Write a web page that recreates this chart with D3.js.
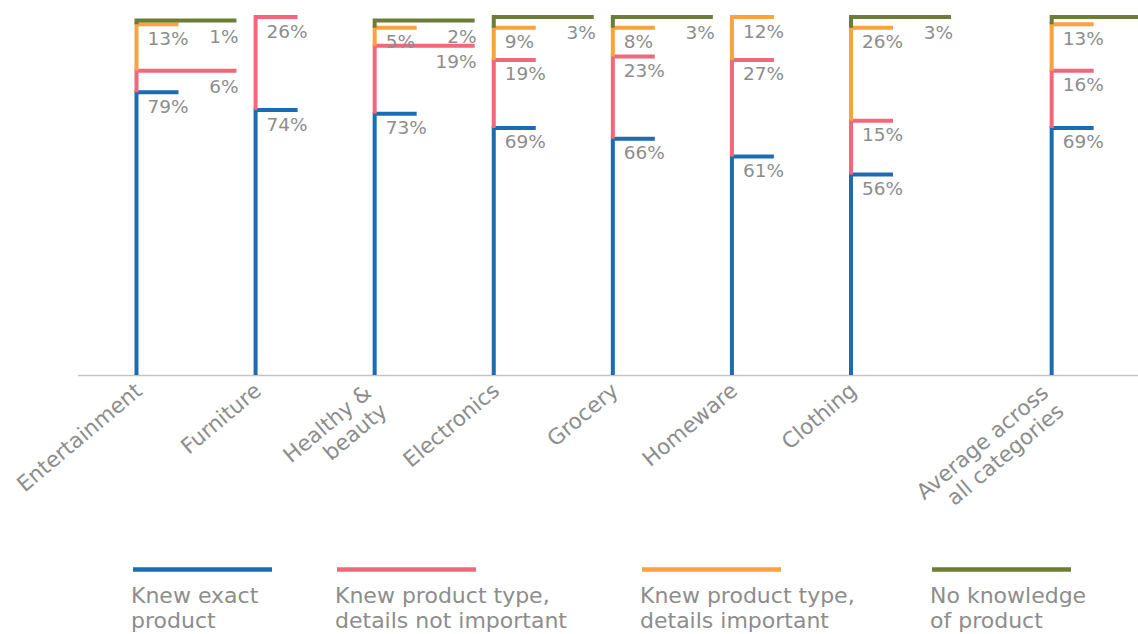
<!DOCTYPE html>
<html>
<head>
<meta charset="utf-8">
<script src="https://cdn.jsdelivr.net/npm/d3@7/dist/d3.min.js"></script>
<style>
  html, body { margin: 0; padding: 0; background: #ffffff; }
  svg { display: block; font-family: "DejaVu Sans", "Noto Sans", sans-serif; }
</style>
</head>
<body>
<svg id="chart" width="1138" height="634"></svg>
<script>
// ---- Data -------------------------------------------------------------
const categories = [
  "Entertainment", "Furniture", "Healthy & beauty", "Electronics",
  "Grocery", "Homeware", "Clothing", "Average across all categories"
];
const categoryLabelLines = [
  ["Entertainment"], ["Furniture"], ["Healthy &", "beauty"], ["Electronics"],
  ["Grocery"], ["Homeware"], ["Clothing"], ["Average across", "all categories"]
];
const seriesKeys = ["exact", "typeNotImportant", "typeImportant", "none"];
const seriesLegendLines = [
  ["Knew exact", "product"],
  ["Knew product type,", "details not important"],
  ["Knew product type,", "details important"],
  ["No knowledge", "of product"]
];
const knewExact        = [79, 74, 73, 69, 66, 61, 56, 69];
const typeNotImportant = [ 6, 26, 19, 19, 23, 27, 15, 16];
const typeImportant    = [13,  0,  5,  9,  8, 12, 26, 13];
const noKnowledge      = [ 1,  0,  2,  3,  3,  0,  3,  2];
const seriesColors = ["#1d6cb1", "#f2677a", "#f8a33d", "#6c7d35"];

// Segments whose value label sits at the right end of a longer top rule
const rightLabelSeries = ["none"];
const rightLabelCells = [["Entertainment", "typeNotImportant"], ["Healthy & beauty", "typeNotImportant"]];

// ---- Layout -----------------------------------------------------------
const W = 1138, H = 634;
const svg = d3.select("#chart");
const baseY = 375, topY = 17;
const textGray = "#8d8d8d";

const rows = categories.map((c, i) => ({
  category: c,
  exact: knewExact[i],
  typeNotImportant: typeNotImportant[i],
  typeImportant: typeImportant[i],
  none: noKnowledge[i]
}));
const stacked = d3.stack().keys(seriesKeys)(rows);

const y = d3.scaleLinear().domain([0, 100]).range([baseY, topY]);

// Individual categories share a point scale; the overall average is set apart
const regular = categories.slice(0, -1);
const xp = d3.scalePoint().domain(regular).range([136.5, 851]);
const summaryGap = 1.685;
const xPos = c => regular.includes(c) ? xp(c) : xp(regular[regular.length - 1]) + summaryGap * xp.step();

const shortRule = 42, longRule = 100;
const isRight = (cat, key) =>
  rightLabelSeries.includes(key) || rightLabelCells.some(([c, k]) => c === cat && k === key);

// Axis baseline
svg.append("line")
  .attr("x1", 78).attr("x2", W)
  .attr("y1", baseY + 0.5).attr("y2", baseY + 0.5)
  .attr("stroke", "#c4c4c4").attr("stroke-width", 1.6);

// Segments: left edge plus top rule
const segG = svg.append("g");
stacked.forEach((layer, si) => {
  const key = layer.key;
  layer.forEach(d => {
    const cat = d.data.category;
    const v = d[1] - d[0];
    if (v <= 0) return;
    const x0 = xPos(cat);
    const w = isRight(cat, key) ? longRule : shortRule;
    const path = d3.path();
    path.moveTo(x0, y(d[0]));
    path.lineTo(x0, y(d[1]));
    path.lineTo(x0 + w, y(d[1]));
    segG.append("path")
      .attr("d", path.toString())
      .attr("fill", "none")
      .attr("stroke", seriesColors[si])
      .attr("stroke-width", 4)
      .attr("stroke-linejoin", "miter");
  });
});

// Value labels: under the segment's top rule, kept clear of the rule below
const labG = svg.append("g")
  .attr("font-size", 18.5).attr("fill", textGray);
stacked.forEach((layer, si) => {
  const key = layer.key;
  layer.forEach((d, ci) => {
    const cat = d.data.category;
    const v = d[1] - d[0];
    if (v <= 0) return;
    const x0 = xPos(cat);
    const right = isRight(cat, key);
    const tx = right ? x0 + longRule + 2 : x0 + 11;
    if (tx > W) return;
    let ty = y(d[1]) + (right ? 22 : 20.5);
    if (!right && si > 0) {
      // nearest lower segment drawn with a short rule
      for (let k = si - 1; k >= 0; k--) {
        const below = stacked[k][ci];
        if (below[1] - below[0] > 0 && !isRight(cat, seriesKeys[k])) {
          ty = Math.min(ty, y(below[1]) - 3);
          break;
        }
      }
    }
    labG.append("text")
      .attr("x", tx)
      .attr("y", ty)
      .attr("text-anchor", right ? "end" : "start")
      .text(v + "%");
  });
});

// Category labels, rotated
const catG = svg.append("g").attr("font-size", 21.5).attr("fill", textGray);
categories.forEach((c, i) => {
  const lines = categoryLabelLines[i];
  const multi = lines.length > 1;
  const t = catG.append("text")
    .attr("transform", `translate(${xPos(c) + 7},${baseY + 18}) rotate(-40)`)
    .attr("text-anchor", "end");
  lines.forEach((ln, j) => {
    t.append("tspan")
      .attr("x", multi ? -8 : 0)
      .attr("y", multi ? -4 + j * 24 : 0)
      .text(ln);
  });
});

// Legend
const legendX = [133, 337, 642, 932];
const legG = svg.append("g");
seriesKeys.forEach((k, i) => {
  const g = legG.append("g").attr("transform", `translate(${legendX[i]},0)`);
  g.append("line")
    .attr("x1", 0).attr("x2", 139)
    .attr("y1", 569.5).attr("y2", 569.5)
    .attr("stroke", seriesColors[i]).attr("stroke-width", 4.5);
  const t = g.append("text").attr("font-size", 22).attr("fill", textGray);
  seriesLegendLines[i].forEach((ln, j) => {
    t.append("tspan").attr("x", -2).attr("y", 603 + j * 25).text(ln);
  });
});
</script>
</body>
</html>
